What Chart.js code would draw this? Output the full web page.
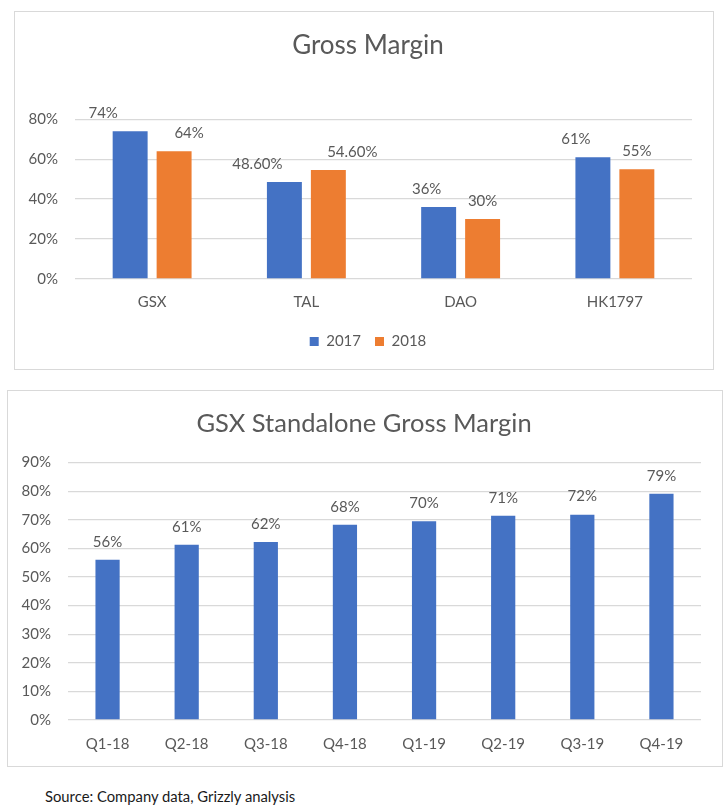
<!DOCTYPE html>
<html>
<head>
<meta charset="utf-8">
<script src="https://cdn.jsdelivr.net/npm/chart.js@4/dist/chart.umd.min.js"></script>
<style>
  body { margin: 0; background: #fff; width: 724px; height: 812px; position: relative; font-family: Lato, sans-serif; }
  .box { position: absolute; border: 1px solid #d9d9d9; background: #fff; }
  #box1 { left: 14px; top: 11px; width: 698px; height: 357px; }
  #box2 { left: 7px; top: 390px; width: 714px; height: 375px; }
  .box canvas { display: block; }
  #source { position: absolute; left: 45px; top: 787px; font-size: 14.8px; color: #1a1a1a; }
</style>
</head>
<body>
<div class="box" id="box1"><canvas id="c1" width="698" height="357"></canvas></div>
<div class="box" id="box2"><canvas id="c2" width="714" height="375"></canvas></div>
<div id="source">Source: Company data, Grizzly analysis</div>
<script>
const companies = ['GSX', 'TAL', 'DAO', 'HK1797'];
const margin2017 = [74, 48.6, 36, 61];
const margin2018 = [64, 54.6, 30, 55];
const topTicks = [0, 20, 40, 60, 80];

const quarters = ['Q1-18', 'Q2-18', 'Q3-18', 'Q4-18', 'Q1-19', 'Q2-19', 'Q3-19', 'Q4-19'];
const gsxMargin = [56, 61.3, 62.2, 68.3, 69.5, 71.4, 71.8, 79.1];
const bottomTicks = [0, 10, 20, 30, 40, 50, 60, 70, 80, 90];

const BLUE = '#4472c4';
const ORANGE = '#ed7d31';
const TEXT = '#595959';
const GRID = '#d9d9d9';
const FONT = 'Lato, sans-serif';

// draws the value labels above each bar
const barLabels = {
    id: 'barLabels',
    afterDatasetsDraw(chart, args, opts) {
        const ctx = chart.ctx;
        ctx.save();
        ctx.font = '15px ' + FONT;
        ctx.fillStyle = TEXT;
        ctx.textAlign = 'center';
        ctx.textBaseline = 'middle';
        chart.data.datasets.forEach((ds, di) => {
            const meta = chart.getDatasetMeta(di);
            const shift = (opts.shift && opts.shift[di]) || [];
            meta.data.forEach((bar, i) => {
                ctx.fillText(opts.format(ds.data[i]), bar.x + (shift[i] || 0), bar.y - 18);
            });
        });
        ctx.restore();
    },
};

function yAxis(ticks, width) {
    return {
        min: ticks[0],
        max: ticks[ticks.length - 1],
        afterBuildTicks: (scale) => { scale.ticks = ticks.map((v) => ({ value: v })); },
        afterFit: (scale) => { scale.width = width; },
        border: { display: false },
        grid: { color: GRID, lineWidth: 1.3, drawTicks: false },
        ticks: { padding: 17, color: TEXT, font: { size: 15, family: FONT }, callback: (v) => v + '%' },
    };
}

// empty right-hand axis, only keeps the plot away from the right edge
function spacerAxis(width) {
    return {
        position: 'right',
        afterFit: (scale) => { scale.width = width; },
        grid: { display: false, drawTicks: false },
        border: { display: false },
        ticks: { display: false },
    };
}

function xAxis(pad, height) {
    return {
        afterFit: (scale) => { scale.height = height; },
        grid: { display: false, drawTicks: false },
        border: { display: false },
        ticks: { padding: pad, color: TEXT, font: { size: 15, family: FONT } },
    };
}

new Chart(document.getElementById('c1'), {
    type: 'bar',
    data: {
        labels: companies,
        datasets: [
            { label: '2017', data: margin2017, backgroundColor: BLUE },
            { label: '2018', data: margin2018, backgroundColor: ORANGE },
        ],
    },
    options: {
        responsive: false,
        animation: false,
        events: [],
        categoryPercentage: 0.57,
        barPercentage: 0.795,
        layout: { padding: { left: 13, right: 5, top: 0, bottom: 10 } },
        plugins: {
            title: {
                display: true,
                text: 'Gross Margin',
                color: TEXT,
                font: { size: 26, family: FONT, weight: 'normal' },
                padding: { top: 18, bottom: 58 },
            },
            legend: {
                position: 'bottom',
                labels: { boxWidth: 9, boxHeight: 9, padding: 14, color: TEXT, font: { size: 15, family: FONT } },
            },
            tooltip: { enabled: false },
            barLabels: {
                format: (v) => (Number.isInteger(v) ? v : v.toFixed(2)) + '%',
                shift: [[-27, -27, -12, -17], [15, 24, 0, 0]],
            },
        },
        scales: { x: xAxis(14, 41), y: yAxis(topTicks, 47), y2: spacerAxis(16) },
    },
    plugins: [barLabels],
});

new Chart(document.getElementById('c2'), {
    type: 'bar',
    data: {
        labels: quarters,
        datasets: [{ label: 'GSX', data: gsxMargin, backgroundColor: BLUE }],
    },
    options: {
        responsive: false,
        animation: false,
        events: [],
        categoryPercentage: 0.34,
        barPercentage: 0.9,
        layout: { padding: { left: 10, right: 12, top: 0, bottom: 0 } },
        plugins: {
            title: {
                display: true,
                text: 'GSX Standalone Gross Margin',
                color: TEXT,
                font: { size: 25.5, family: FONT, weight: 'normal' },
                padding: { top: 17, bottom: 24 },
            },
            legend: { display: false },
            tooltip: { enabled: false },
            barLabels: { format: (v) => Math.round(v) + '%' },
        },
        scales: { x: xAxis(15, 46), y: yAxis(bottomTicks, 50), y2: spacerAxis(9) },
    },
    plugins: [barLabels],
});
</script>
</body>
</html>
